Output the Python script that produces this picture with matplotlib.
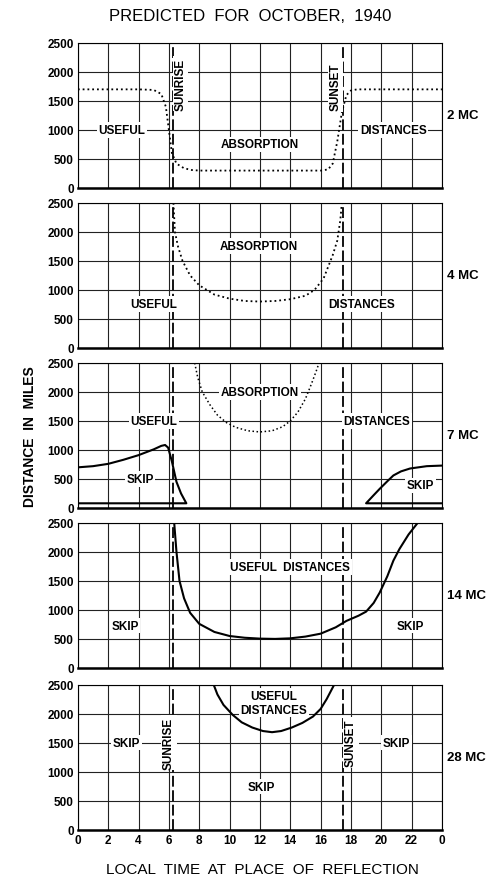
import matplotlib.pyplot as plt

plt.rcParams['font.family'] = ['Liberation Sans', 'DejaVu Sans']

hour_ticks = [0, 2, 4, 6, 8, 10, 12, 14, 16, 18, 20, 22, 24]
hour_labels = ['0', '2', '4', '6', '8', '10', '12', '14', '16', '18', '20', '22', '0']
dist_ticks = [0, 500, 1000, 1500, 2000, 2500]
sunrise = 6.3
sunset = 17.5
freq_labels = ['2 MC', '4 MC', '7 MC', '14 MC', '28 MC']

# 2 MC absorption limit (dotted)
t_2mc = [0, 4, 5.0, 5.5, 5.8, 6.0, 6.2, 6.5, 7.0, 7.5, 8, 16, 16.5, 16.8, 17.1, 17.4, 17.7, 18.0, 18.4, 24]
d_2mc = [1700, 1700, 1690, 1620, 1400, 1000, 600, 420, 340, 310, 300, 300, 320, 420, 800, 1300, 1600, 1680, 1700, 1700]

# 4 MC absorption limit (dotted)
t_4mc = [6.3, 6.4, 6.6, 6.9, 7.4, 8.0, 9.0, 10.0, 11.0, 12.0, 13.0, 14.0, 15.0, 15.6, 16.2, 16.8, 17.1, 17.3, 17.4]
d_4mc = [2500, 2000, 1750, 1500, 1250, 1080, 920, 850, 810, 800, 810, 840, 900, 1000, 1200, 1600, 1850, 2200, 2500]

# 7 MC absorption limit (dotted) and skip zones (solid)
t_7mc_abs = [7.7, 7.9, 8.2, 8.7, 9.2, 9.8, 10.4, 11.2, 12.0, 12.8, 13.5, 14.0, 14.5, 15.0, 15.4, 15.7, 15.9]
d_7mc_abs = [2500, 2250, 2000, 1780, 1600, 1470, 1390, 1330, 1310, 1330, 1400, 1500, 1650, 1880, 2140, 2350, 2500]
t_7mc_skip_am = [0, 1, 2, 3, 4, 5, 5.5, 5.75, 5.95, 6.2, 6.5, 6.8, 7.15, 0]
d_7mc_skip_am = [700, 720, 760, 830, 910, 1010, 1070, 1085, 1040, 800, 450, 250, 80, 80]
t_7mc_skip_pm = [24, 19.0, 19.5, 19.9, 20.4, 20.8, 21.3, 21.9, 23.0, 24]
d_7mc_skip_pm = [80, 80, 220, 330, 460, 560, 630, 680, 720, 730]

# 14 MC skip limit
t_14mc = [6.35, 6.5, 6.7, 7.0, 7.4, 8.0, 9.0, 10.0, 11.0, 12.0, 13.0, 14.0, 15.0, 16.0, 17.0, 17.7, 18.5, 19.0, 19.5, 19.9, 20.4, 20.8, 21.2, 21.8, 22.4]
d_14mc = [2500, 2000, 1500, 1200, 950, 760, 620, 550, 520, 505, 500, 510, 540, 590, 700, 810, 900, 970, 1120, 1300, 1580, 1850, 2050, 2300, 2500]

# 28 MC skip limit
t_28mc = [8.95, 9.2, 9.6, 10.2, 10.8, 11.5, 12.2, 12.8, 13.4, 14.1, 14.8, 15.5, 16.0, 16.4, 16.7, 16.9]
d_28mc = [2500, 2330, 2150, 1980, 1850, 1760, 1700, 1680, 1700, 1760, 1840, 1950, 2080, 2250, 2400, 2500]

fig = plt.figure(figsize=(4.96, 8.79), dpi=100)
bottoms = [0.785, 0.603, 0.421, 0.239, 0.055]
box = dict(facecolor='white', edgecolor='none', pad=1.2)
txt = dict(ha='center', va='center', fontsize=8.5, fontweight='bold', bbox=box, zorder=5)

axes = []
for i in range(5):
    ax = fig.add_axes([0.157, bottoms[i], 0.734, 0.165])
    ax.set_xlim(0, 24)
    ax.set_ylim(0, 2500)
    ax.set_xticks(hour_ticks)
    ax.set_yticks(dist_ticks)
    ax.set_yticklabels([str(v) for v in dist_ticks], fontsize=8.5, fontweight='bold')
    ax.grid(True, color='#222222', lw=0.8)
    ax.set_axisbelow(True)
    ax.tick_params(length=0, pad=3)
    ax.axvline(sunrise, color='black', lw=1.3, ls=(0, (6, 2)), zorder=2)
    ax.axvline(sunset, color='black', lw=1.3, ls=(0, (6, 2)), zorder=2)
    ax.spines['bottom'].set_linewidth(1.8)
    ax.text(24.35, 1250, freq_labels[i], ha='left', va='center', fontsize=9.5, fontweight='bold')
    if i < 4:
        ax.set_xticklabels([])
    else:
        ax.set_xticklabels(hour_labels, fontsize=8.5, fontweight='bold')
    axes.append(ax)

# --- 2 MC ---
ax = axes[0]
ax.plot(t_2mc, d_2mc, color='black', ls=':', lw=1.3)
ax.text(2.9, 1000, 'USEFUL', **txt)
ax.text(12.0, 750, 'ABSORPTION', **txt)
ax.text(20.8, 1000, 'DISTANCES', **txt)
ax.text(6.75, 1800, 'SUNRISE', rotation=90, **txt)
ax.text(17.0, 1750, 'SUNSET', rotation=90, **txt)

# --- 4 MC ---
ax = axes[1]
ax.plot(t_4mc, d_4mc, color='black', ls=':', lw=1.3)
ax.text(11.9, 1760, 'ABSORPTION', **txt)
ax.text(5.0, 760, 'USEFUL', **txt)
ax.text(18.7, 760, 'DISTANCES', **txt)

# --- 7 MC ---
ax = axes[2]
ax.plot(t_7mc_abs, d_7mc_abs, color='black', ls=':', lw=1.1)
ax.plot(t_7mc_skip_am, d_7mc_skip_am, color='black', lw=1.5)
ax.plot(t_7mc_skip_pm, d_7mc_skip_pm, color='black', lw=1.5)
ax.text(12.0, 2000, 'ABSORPTION', **txt)
ax.text(5.0, 1500, 'USEFUL', **txt)
ax.text(19.7, 1500, 'DISTANCES', **txt)
ax.text(4.1, 500, 'SKIP', **txt)
ax.text(22.6, 390, 'SKIP', **txt)

# --- 14 MC ---
ax = axes[3]
ax.plot(t_14mc, d_14mc, color='black', lw=1.5)
ax.text(14.0, 1740, 'USEFUL  DISTANCES', **txt)
ax.text(3.1, 730, 'SKIP', **txt)
ax.text(21.9, 730, 'SKIP', **txt)

# --- 28 MC ---
ax = axes[4]
ax.plot(t_28mc, d_28mc, color='black', lw=1.5)
ax.text(12.9, 2310, 'USEFUL', **txt)
ax.text(12.9, 2070, 'DISTANCES', **txt)
ax.text(3.2, 1500, 'SKIP', **txt)
ax.text(21.0, 1500, 'SKIP', **txt)
ax.text(12.1, 740, 'SKIP', **txt)
ax.text(6.0, 1500, 'SUNRISE', rotation=90, **txt)
ax.text(18.0, 1500, 'SUNSET', rotation=90, **txt)

fig.text(0.505, 0.981, 'PREDICTED  FOR  OCTOBER,  1940', ha='center', va='center', fontsize=12)
fig.text(0.53, 0.01, 'LOCAL  TIME  AT  PLACE  OF  REFLECTION', ha='center', va='center', fontsize=11)
fig.text(0.06, 0.503, 'DISTANCE  IN  MILES', ha='center', va='center', rotation=90,
         fontsize=10, fontweight='bold')

fig.savefig('out.png', dpi=100)
